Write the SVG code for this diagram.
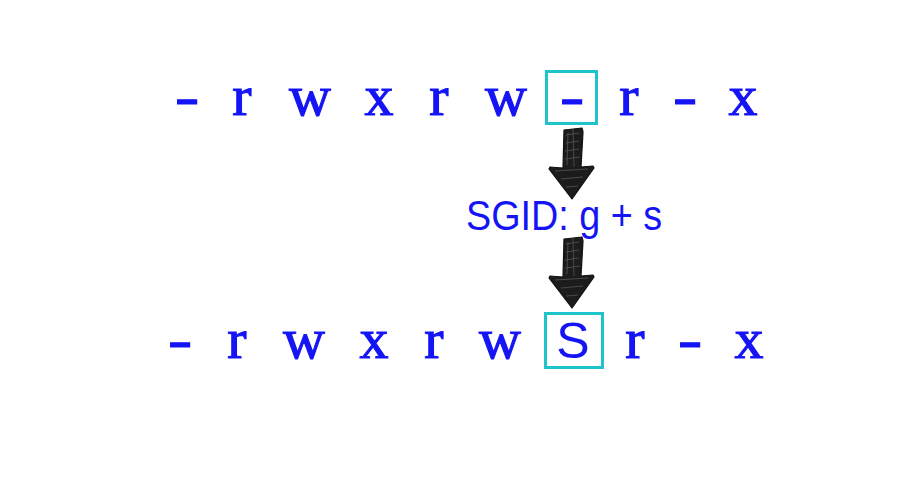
<svg xmlns="http://www.w3.org/2000/svg" width="900" height="500" viewBox="0 0 900 500">
<style>
.perm{font-family:"Liberation Serif","Times New Roman",serif;font-size:58px;fill:#1414f5;text-anchor:middle;stroke:#1414f5;stroke-width:1.1}
.lbl{font-family:"Liberation Sans",Arial,sans-serif;font-size:42px;fill:#1414f5}
.big{font-family:"Liberation Sans",Arial,sans-serif;font-size:50px;fill:#1414f5;text-anchor:middle}
.hl{fill:none;stroke:#1ec3cc;stroke-width:3}
.arrow{fill:#1c1c1c;stroke:#111;stroke-width:1.2;stroke-linejoin:round}
.hatch{stroke:#555;stroke-width:0.8;fill:none}
</style>
<defs>
<g id="sketchArrow">
<path class="arrow" d="M-7,-1 L11,-3 L12,1 L10,36 L22,35 L23,37 L1,68 L-22,38 L-21,36 L-8,37 Z"/>
<path class="hatch" d="M-5,4 L8,2 M-5,12 L8,10 M-6,20 L8,18 M-6,28 L9,26 M-16,40 L17,38 M-10,48 L12,46 M-5,56 L7,55 M2,-2 L3,36 M-3,2 L-4,34"/>
</g>
</defs>
<g id="row-top">
<text class="perm" transform="matrix(1.25 0 0 1 187 0)" x="0" y="115">-</text>
<text class="perm" x="242" y="115">r</text>
<text class="perm" x="310" y="115">w</text>
<text class="perm" x="379" y="115">x</text>
<text class="perm" x="439" y="115">r</text>
<text class="perm" x="506" y="115">w</text>
<text class="perm" transform="matrix(1.25 0 0 1 572 0)" x="0" y="115">-</text>
<text class="perm" x="629" y="115">r</text>
<text class="perm" transform="matrix(1.25 0 0 1 685 0)" x="0" y="115">-</text>
<text class="perm" x="743" y="115">x</text>
</g>
<g id="box-top"><rect class="hl" x="546.5" y="71.5" width="50" height="52"/></g>
<g id="label-sgid"><text class="lbl" x="466" y="230" textLength="196" lengthAdjust="spacingAndGlyphs">SGID: g + s</text></g>
<g id="row-bottom">
<text class="perm" transform="matrix(1.25 0 0 1 180 0)" x="0" y="358">-</text>
<text class="perm" x="237" y="358">r</text>
<text class="perm" x="304" y="358">w</text>
<text class="perm" x="374" y="358">x</text>
<text class="perm" x="434" y="358">r</text>
<text class="perm" x="500" y="358">w</text>
<text class="big" x="573" y="358">S</text>
<text class="perm" x="635" y="358">r</text>
<text class="perm" transform="matrix(1.25 0 0 1 690 0)" x="0" y="358">-</text>
<text class="perm" x="749" y="358">x</text>
</g>
<g id="box-bottom"><rect class="hl" x="545.5" y="313.5" width="57" height="54"/></g>
<g id="connectors">
<use href="#sketchArrow" x="571" y="131"/>
<use href="#sketchArrow" x="571" y="240"/>
</g>
</svg>
